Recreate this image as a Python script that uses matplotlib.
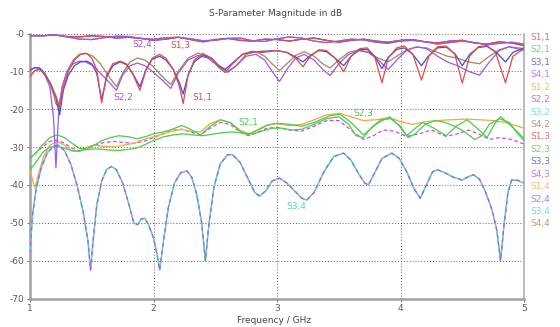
import matplotlib
matplotlib.use("Agg")
import matplotlib.pyplot as plt

# ---------------- data (GHz, dB) ----------------
# near-0 dB transmission curves
F_TOP = [1.00, 1.10, 1.20, 1.30, 1.40, 1.50, 1.60, 1.70, 1.80, 1.90, 2.00, 2.10, 2.20, 2.30,
         2.40, 2.50, 2.60, 2.70, 2.80, 2.90, 3.00, 3.10, 3.20, 3.30, 3.40, 3.50, 3.60, 3.70,
         3.80, 3.90, 4.00, 4.10, 4.20, 4.30, 4.40, 4.50, 4.60, 4.70, 4.80, 4.90, 5.00]
DB_S13 = [-0.6, -0.6, -0.4, -0.8, -0.9, -0.6, -0.8, -1.2, -1.0, -1.3, -1.8, -1.5, -1.0, -1.6,
          -2.2, -1.6, -1.3, -1.8, -2.0, -1.5, -1.6, -2.0, -1.5, -1.2, -1.8, -2.3, -1.8, -1.5,
          -2.0, -2.3, -1.8, -1.6, -2.2, -2.5, -2.0, -1.8, -2.5, -2.8, -2.2, -2.5, -3.2]
DB_S24 = [-0.5, -0.6, -0.3, -0.9, -1.5, -1.6, -1.1, -0.7, -0.8, -1.3, -1.5, -1.1, -1.0, -1.4,
          -1.9, -1.8, -1.3, -1.2, -1.9, -2.1, -1.4, -0.9, -1.2, -2.0, -2.4, -2.0, -1.5, -1.7,
          -2.3, -2.6, -2.0, -1.8, -2.2, -2.8, -2.4, -2.0, -2.4, -3.0, -2.6, -2.3, -2.8]

# reflections
F_S11 = [1.00, 1.04, 1.08, 1.12, 1.17, 1.21, 1.24, 1.27, 1.31, 1.36, 1.41, 1.46, 1.50, 1.54,
         1.58, 1.62, 1.67, 1.73, 1.78, 1.83, 1.89, 1.94, 1.99, 2.05, 2.10, 2.16, 2.21, 2.24,
         2.28, 2.33, 2.40, 2.47, 2.53, 2.58, 2.64, 2.72, 2.80, 2.88, 3.00, 3.08, 3.15, 3.21,
         3.27, 3.34, 3.40, 3.47, 3.54, 3.60, 3.67, 3.73, 3.79, 3.85, 3.90, 3.97, 4.03, 4.10,
         4.17, 4.23, 4.30, 4.37, 4.44, 4.50, 4.56, 4.63, 4.70, 4.77, 4.85, 4.91, 5.00]
DB_S11 = [-11.3, -9.8, -9.5, -10.8, -13.5, -16.5, -19.5, -14.5, -10.0, -7.0, -5.5, -5.3, -6.5, -9.5,
          -18.3, -11.0, -8.0, -7.3, -8.0, -10.5, -15.0, -9.5, -6.5, -5.5, -6.5, -9.5, -14.0, -18.5,
          -11.0, -7.0, -5.3, -6.5, -9.0, -10.3, -8.0, -5.5, -4.7, -5.0, -4.5, -5.0, -6.5, -8.8,
          -6.0, -4.3, -4.5, -6.5, -10.1, -6.0, -4.0, -3.8, -6.0, -13.0, -6.5, -3.8, -3.3, -5.5,
          -12.3, -6.0, -3.5, -3.3, -5.5, -13.1, -6.0, -3.5, -3.2, -5.0, -13.0, -6.0, -4.0]
DB_S33 = [-9.7, -9.0, -9.2, -10.5, -13.5, -17.0, -21.5, -15.0, -11.0, -8.5, -7.5, -7.3, -8.0, -10.5,
          -17.5, -11.5, -8.5, -7.5, -8.2, -10.5, -14.0, -9.5, -6.8, -6.0, -7.0, -9.5, -13.0, -16.0,
          -11.0, -7.5, -5.8, -6.5, -8.5, -9.5, -7.8, -5.5, -4.9, -4.7, -4.5, -5.0, -6.2, -7.5,
          -5.8, -4.5, -4.8, -6.5, -8.5, -6.0, -4.3, -4.2, -6.0, -9.3, -6.3, -4.2, -3.8, -5.5,
          -8.5, -5.8, -3.8, -3.6, -5.3, -8.5, -5.5, -3.7, -3.4, -4.8, -7.5, -5.0, -3.8]
F_S22 = [1.00, 1.04, 1.08, 1.12, 1.16, 1.19, 1.21, 1.23, 1.26, 1.30, 1.35, 1.40, 1.45, 1.51,
         1.57, 1.63, 1.70, 1.75, 1.81, 1.87, 1.93, 1.99, 2.06, 2.14, 2.20, 2.28, 2.36, 2.44,
         2.52, 2.60, 2.67, 2.75, 2.83, 2.90, 2.96, 3.02, 3.08, 3.15, 3.22, 3.30, 3.37, 3.43,
         3.50, 3.58, 3.66, 3.74, 3.82, 3.90, 3.97, 4.05, 4.13, 4.21, 4.30, 4.38, 4.46, 4.55,
         4.64, 4.72, 4.80, 4.88, 5.00]
DB_S22 = [-9.7, -9.0, -9.2, -11.0, -14.0, -22.0, -35.5, -22.0, -14.0, -10.0, -8.0, -7.3, -7.5, -8.5,
          -10.5, -12.5, -15.0, -11.0, -8.5, -7.8, -8.5, -10.0, -12.0, -14.5, -10.5, -7.0, -5.8, -6.5,
          -8.5, -10.0, -8.5, -6.0, -5.5, -7.0, -10.0, -12.7, -9.5, -6.5, -5.5, -7.0, -9.5, -11.1,
          -8.0, -5.5, -4.5, -5.0, -7.0, -9.5, -7.0, -4.5, -3.5, -4.0, -6.0, -7.5, -8.5, -10.0,
          -11.0, -7.5, -4.5, -3.5, -4.5]
DB_S44 = [-11.3, -9.8, -9.5, -10.8, -13.0, -16.0, -18.5, -19.5, -14.5, -10.0, -7.0, -5.5, -5.2, -6.0,
          -8.0, -11.0, -14.0, -10.5, -7.5, -6.5, -7.0, -8.5, -11.0, -13.5, -10.0, -6.5, -5.2, -6.0,
          -8.5, -10.3, -8.5, -5.5, -4.8, -6.0, -8.0, -9.8, -8.0, -5.8, -4.8, -6.0, -8.0, -9.1,
          -7.0, -5.0, -4.3, -5.0, -6.5, -7.5, -6.0, -4.3, -3.6, -3.8, -5.0, -6.0, -6.5, -7.5,
          -8.0, -6.0, -4.3, -3.5, -4.0]

# coupling curves around -25 dB
F_S21 = [1.00, 1.05, 1.10, 1.16, 1.22, 1.28, 1.34, 1.40, 1.46, 1.52, 1.58, 1.65, 1.72, 1.80,
         1.87, 1.94, 2.00, 2.08, 2.15, 2.23, 2.30, 2.38, 2.46, 2.54, 2.62, 2.70, 2.76, 2.84,
         2.92, 3.00, 3.10, 3.20, 3.30, 3.42, 3.51, 3.60, 3.70, 3.80, 3.91, 3.98, 4.05, 4.12,
         4.18, 4.27, 4.37, 4.45, 4.54, 4.62, 4.70, 4.76, 4.81, 4.90, 5.00]
DB_S21 = [-33.0, -31.5, -29.5, -27.5, -26.8, -27.5, -29.0, -30.3, -30.5, -29.5, -28.3, -27.5, -27.0, -27.3,
          -27.8, -27.2, -26.5, -26.0, -25.3, -24.3, -25.3, -26.8, -24.5, -22.8, -23.5, -25.8, -26.8, -25.5,
          -24.2, -23.7, -24.0, -24.5, -23.5, -21.8, -21.3, -23.5, -26.8, -24.0, -22.0, -24.0, -27.0, -25.0,
          -23.5, -25.0, -27.0, -24.5, -22.8, -25.0, -27.5, -24.0, -22.0, -24.5, -27.7]
F_S12 = [1.00, 1.02, 1.04, 1.07, 1.11, 1.16, 1.22, 1.28, 1.34, 1.40, 1.46, 1.52, 1.60, 1.68,
         1.76, 1.84, 1.92, 2.00, 2.08, 2.15, 2.23, 2.30, 2.38, 2.46, 2.54, 2.62, 2.70, 2.77,
         2.85, 2.92, 3.00, 3.10, 3.20, 3.30, 3.40, 3.51, 3.60, 3.70, 3.80, 3.91, 4.00, 4.10,
         4.20, 4.30, 4.40, 4.54, 4.65, 4.75, 4.85, 4.95, 5.00]
DB_S12 = [-36.5, -38.5, -40.8, -37.0, -32.5, -29.5, -28.5, -29.5, -31.0, -31.2, -30.0, -29.5, -29.8, -30.0,
          -29.5, -29.0, -28.0, -27.3, -26.5, -25.8, -25.3, -25.8, -26.0, -23.8, -22.8, -23.5, -25.5, -26.5,
          -25.5, -24.3, -23.8, -24.3, -24.0, -22.8, -21.5, -21.1, -22.0, -23.0, -22.8, -22.2, -23.3, -24.0,
          -23.3, -23.0, -22.8, -22.6, -22.8, -23.0, -23.5, -24.5, -25.0]
F_S23 = [1.00, 1.05, 1.10, 1.16, 1.22, 1.28, 1.34, 1.40, 1.46, 1.52, 1.58, 1.65, 1.72, 1.80,
         1.86, 1.92, 2.00, 2.08, 2.16, 2.24, 2.32, 2.40, 2.48, 2.56, 2.64, 2.72, 2.80, 2.88,
         2.96, 3.04, 3.12, 3.20, 3.30, 3.40, 3.50, 3.58, 3.64, 3.70, 3.76, 3.84, 3.92, 4.00,
         4.06, 4.12, 4.20, 4.28, 4.36, 4.44, 4.52, 4.60, 4.66, 4.72, 4.80, 4.88, 4.95, 5.00]
DB_S23 = [-36.0, -34.0, -31.5, -30.0, -29.8, -30.3, -31.0, -31.0, -30.6, -30.5, -30.6, -30.8, -30.9, -30.6,
          -30.3, -29.5, -28.3, -27.3, -26.8, -26.5, -26.8, -27.0, -26.6, -26.2, -26.0, -26.3, -26.6, -25.8,
          -25.0, -25.0, -25.5, -25.3, -24.0, -22.5, -22.0, -24.0, -27.0, -27.5, -25.0, -22.8, -22.5, -24.5,
          -27.5, -26.5, -24.0, -23.0, -23.5, -24.5, -26.0, -28.0, -27.0, -24.0, -22.5, -23.5, -26.5, -28.3]
F_S41 = [1.00, 1.05, 1.10, 1.16, 1.22, 1.28, 1.34, 1.40, 1.46, 1.52, 1.60, 1.68, 1.76, 1.84,
         1.92, 2.00, 2.08, 2.15, 2.23, 2.30, 2.38, 2.46, 2.54, 2.62, 2.70, 2.77, 2.85, 2.92,
         3.00, 3.10, 3.20, 3.30, 3.40, 3.50, 3.60, 3.70, 3.78, 3.86, 3.95, 4.05, 4.15, 4.25,
         4.37, 4.46, 4.55, 4.63, 4.72, 4.80, 4.90, 5.00]
DB_S41 = [-33.0, -31.5, -30.0, -28.5, -28.1, -29.0, -30.3, -31.0, -30.5, -29.5, -28.8, -28.5, -28.8, -29.0,
          -28.5, -27.5, -26.5, -25.6, -25.3, -26.0, -26.8, -25.0, -23.5, -24.0, -26.0, -27.0, -26.0, -25.0,
          -24.8, -25.5, -25.8, -24.5, -23.0, -23.0, -25.5, -28.0, -27.0, -25.5, -25.8, -27.2, -26.5, -25.5,
          -27.2, -26.5, -25.5, -26.5, -28.0, -27.5, -28.0, -29.2]

# isolation curves (all four lie on top of each other)
F_ISO = [1.00, 1.02, 1.05, 1.09, 1.14, 1.19, 1.23, 1.28, 1.33, 1.38, 1.43, 1.47, 1.49, 1.51,
         1.54, 1.58, 1.62, 1.66, 1.70, 1.75, 1.80, 1.84, 1.87, 1.90, 1.93, 1.96, 2.00, 2.03,
         2.05, 2.08, 2.12, 2.17, 2.22, 2.27, 2.31, 2.35, 2.39, 2.42, 2.45, 2.49, 2.54, 2.60,
         2.64, 2.70, 2.76, 2.82, 2.86, 2.91, 2.96, 3.02, 3.08, 3.14, 3.20, 3.24, 3.30, 3.38,
         3.46, 3.54, 3.60, 3.66, 3.71, 3.74, 3.78, 3.85, 3.93, 3.99, 4.05, 4.11, 4.16, 4.21,
         4.26, 4.30, 4.36, 4.43, 4.50, 4.55, 4.59, 4.64, 4.69, 4.74, 4.78, 4.81, 4.84, 4.87,
         4.90, 4.95, 5.00]
DB_ISO = [-58.0, -48.0, -41.0, -35.5, -31.5, -29.8, -29.5, -31.0, -34.5, -40.0, -47.0, -55.0, -62.5, -55.0,
          -45.5, -39.0, -36.0, -35.1, -36.0, -39.5, -45.0, -50.0, -50.5, -49.0, -48.8, -50.5, -54.0, -58.5,
          -62.5, -55.0, -46.0, -39.5, -36.8, -36.3, -38.0, -42.5, -50.0, -60.0, -50.0, -40.5, -34.5, -32.0,
          -32.0, -34.0, -38.0, -42.0, -43.0, -41.5, -39.0, -38.2, -39.5, -41.5, -43.5, -44.0, -42.0, -36.5,
          -32.5, -31.6, -33.5, -37.0, -39.5, -40.0, -37.5, -33.0, -31.6, -33.0, -36.5, -41.0, -43.5, -40.0,
          -36.5, -36.0, -36.8, -38.0, -38.7, -37.8, -37.3, -38.5, -42.0, -46.5, -52.0, -60.0, -50.0, -42.0,
          -38.7, -38.8, -39.5]

RED, GREEN, BLUE, MAGENTA = "#dd4b4b", "#4ccc4c", "#4a4ad0", "#cc4ddd"
ORANGE, PURPLE, CYAN, BROWN = "#f0a848", "#9c5ae6", "#4fd6d6", "#a08660"
GREY = "#5a5a5a"

# legend order: S1,1 S2,1 S3,1 S4,1 S1,2 ... S4,4
curves = [
    ("S1,1", F_S11, DB_S11, RED, "-", 6),
    ("S2,1", F_S21, DB_S21, GREEN, "-", 5),
    ("S3,1", F_TOP, DB_S13, BLUE, "-", 3),
    ("S4,1", F_S41, DB_S41, MAGENTA, (0, (3, 2)), 4),
    ("S1,2", F_S12, DB_S12, ORANGE, "-", 4),
    ("S2,2", F_S22, DB_S22, PURPLE, "-", 5),
    ("S3,2", F_ISO, DB_ISO, CYAN, "-", 3),
    ("S4,2", F_TOP, DB_S24, BROWN, "-", 3),
    ("S1,3", F_TOP, DB_S13, RED, "-", 4),
    ("S2,3", F_S23, DB_S23, GREEN, "-", 4),
    ("S3,3", F_S11, DB_S33, BLUE, "-", 5),
    ("S4,3", F_ISO, DB_ISO, MAGENTA, (0, (3, 3)), 5),
    ("S1,4", F_ISO, DB_ISO, ORANGE, "-", 1),
    ("S2,4", F_TOP, DB_S24, PURPLE, "-", 4),
    ("S3,4", F_ISO, DB_ISO, CYAN, "-", 4),
    ("S4,4", F_S22, DB_S44, BROWN, "-", 4),
]

plt.rcParams["font.family"] = ["DejaVu Sans"]
fig = plt.figure(figsize=(5.6, 3.27), dpi=100)
ax = fig.add_axes([30 / 560, 28.5 / 327, 494 / 560, 265 / 327])

for name, f, db, col, ls, z in curves:
    lw = 0.6 if name == "S1,4" else 0.9
    ax.plot(f, db, color=col, linestyle=ls, lw=lw, label=name, zorder=z)

ax.set_xlim(1, 5)
ax.set_ylim(-70, 0)
ax.set_xticks([1, 2, 3, 4, 5])
ax.set_xticklabels(["1", "2", "3", "4", "5"])
ax.set_yticks([0, -10, -20, -30, -40, -50, -60, -70])
ax.set_yticklabels(["-0", "-10", "-20", "-30", "-40", "-50", "-60", "-70"])
ax.tick_params(labelsize=6.5, colors=GREY, length=2, width=0.6, pad=2)
ax.grid(True, color="#606060", linestyle=(0, (1, 2)), lw=0.7)
ax.set_axisbelow(True)

for side in ["left", "bottom"]:
    ax.spines[side].set_color("#a0a0a0")
    ax.spines[side].set_linewidth(1.8)
ax.spines["right"].set_color("#b4b4b4")
ax.spines["right"].set_linewidth(1.3)
ax.spines["top"].set_visible(False)

# curve labels inside the plot
ax.text(1.907, -3.0, "S2,4", color=PURPLE, fontsize=6.5, ha="center", va="center")
ax.text(2.215, -3.3, "S1,3", color=RED, fontsize=6.5, ha="center", va="center")
ax.text(1.753, -16.8, "S2,2", color=PURPLE, fontsize=6.5, ha="center", va="center")
ax.text(2.393, -16.8, "S1,1", color=RED, fontsize=6.5, ha="center", va="center")
ax.text(2.765, -23.6, "S2,1", color=GREEN, fontsize=6.5, ha="center", va="center")
ax.text(3.696, -21.2, "S2,3", color=GREEN, fontsize=6.5, ha="center", va="center")
ax.text(3.154, -45.8, "S3,4", color=CYAN, fontsize=6.5, ha="center", va="center")

fig.text(0.492, 0.96, "S-Parameter Magnitude in dB", ha="center", va="center",
         fontsize=6.5, color="#444444")
fig.text(0.49, 0.02, "Frequency / GHz", ha="center", va="center",
         fontsize=6.5, color="#444444")

leg = ax.legend(loc="upper left", bbox_to_anchor=(530 / 560, 1 - 33 / 327),
                bbox_transform=fig.transFigure, frameon=False, fontsize=6.5,
                handlelength=0, handletextpad=0, labelspacing=0.38,
                borderaxespad=0, borderpad=0, labelcolor="linecolor")
for h in leg.legend_handles:
    h.set_visible(False)
for t in leg.get_texts():
    t.set_alpha(0.8)

fig.savefig("out.png", dpi=100, facecolor="white")
